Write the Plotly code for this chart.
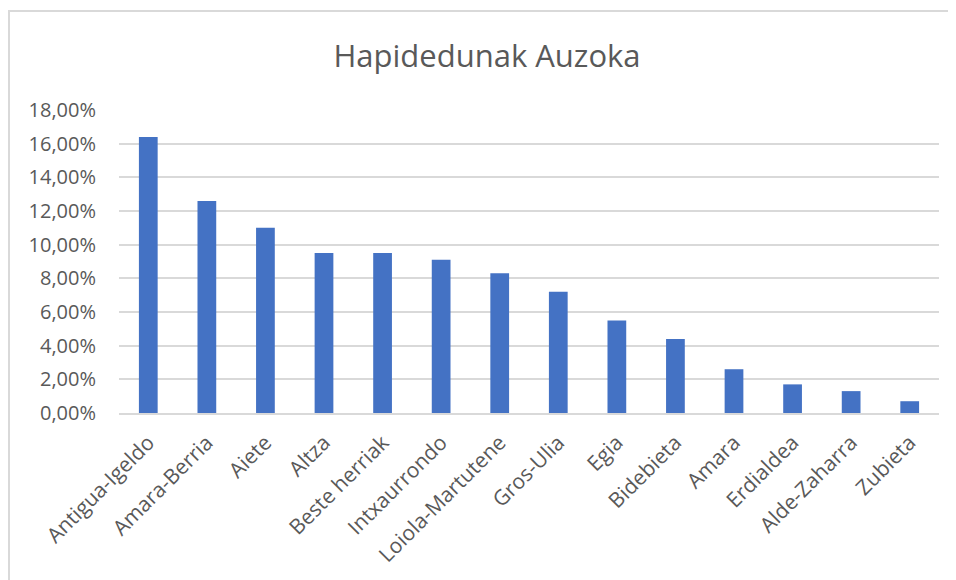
import plotly.graph_objects as go

categories = ["Antigua-Igeldo", "Amara-Berria", "Aiete", "Altza", "Beste herriak",
              "Intxaurrondo", "Loiola-Martutene", "Gros-Ulia", "Egia", "Bidebieta",
              "Amara", "Erdialdea", "Alde-Zaharra", "Zubieta"]
values = [0.164, 0.126, 0.110, 0.095, 0.095, 0.091, 0.083, 0.072, 0.055, 0.044,
          0.026, 0.017, 0.013, 0.007]
y_ticks = [0, 0.02, 0.04, 0.06, 0.08, 0.10, 0.12, 0.14, 0.16, 0.18]
y_tick_labels = ["0,00%", "2,00%", "4,00%", "6,00%", "8,00%", "10,00%",
                 "12,00%", "14,00%", "16,00%", "18,00%"]
title_text = "Hapidedunak Auzoka"

FONT = "Open Sans"
TXT = "#595959"
GRID = "#D9D9D9"

fig = go.Figure(go.Bar(x=categories, y=values, marker=dict(color="#4472C4", line=dict(width=0))))

# page body has an 8px margin; figure coordinates are offset by it
OFF = 8
W, H = 956 - OFF, 580 - OFF
L, T = 119 - OFF, 110 - OFF
R = W - (939 - OFF)
B = H - (413 - OFF)
pw, ph = W - L - R, H - T - B

fig.update_layout(
    width=W, height=H,
    margin=dict(l=L, r=R, t=T, b=B),
    paper_bgcolor="white", plot_bgcolor="white",
    bargap=0.68,
    showlegend=False,
    font=dict(family=FONT, color=TXT),
    title=dict(text=title_text, x=(487 - OFF) / W, xref="container",
               xanchor="center", y=1 - (56 - OFF) / H, yanchor="middle",
               font=dict(family=FONT, size=31, color=TXT)),
    xaxis=dict(tickangle=-45, tickfont=dict(size=21, color=TXT), showgrid=False,
               showline=True, linecolor=GRID, linewidth=2, ticks="", ticklabelstandoff=7),
    yaxis=dict(range=[0, 0.18], tickvals=y_ticks, ticktext=y_tick_labels,
               tickfont=dict(size=20, color=TXT), showgrid=True, gridcolor=GRID, gridwidth=1.5,
               zeroline=False, showline=False, ticks="", ticklabelstandoff=22),
    shapes=[dict(type="rect", xref="paper", yref="paper",
                 x0=(1 - L) / pw, x1=(W + 20 - L) / pw,
                 y0=-(H + 20 - T - ph) / ph, y1=1 + (T - 3) / ph,
                 line=dict(color=GRID, width=2), fillcolor="rgba(0,0,0,0)", layer="below")],
)

fig.write_html("out.html")
